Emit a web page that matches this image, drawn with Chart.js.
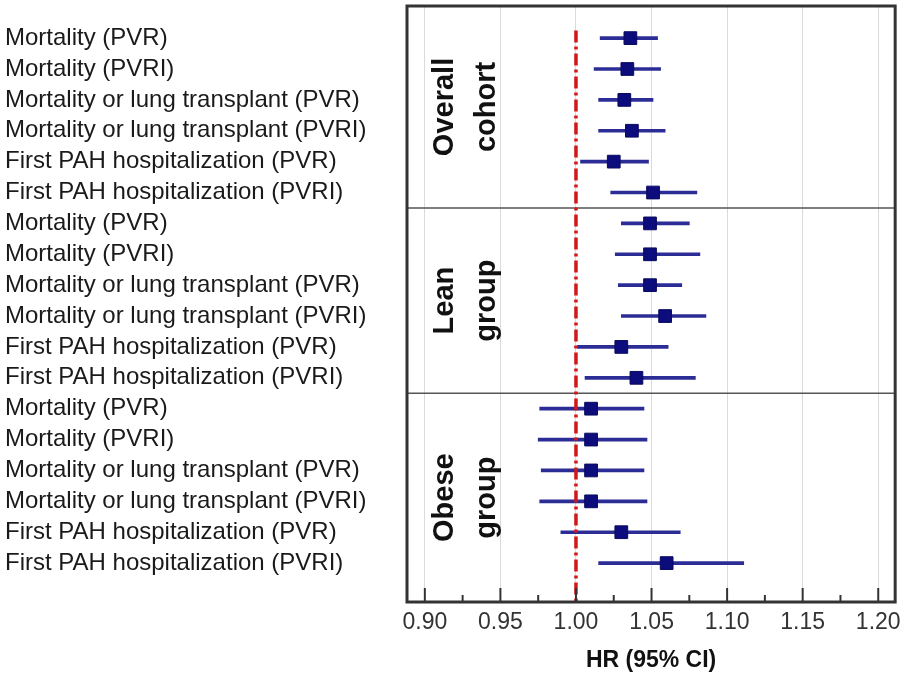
<!DOCTYPE html>
<html lang="en">
<head>
    <meta charset="UTF-8">
    <title>HR forest plot</title>
    <script src="https://cdn.jsdelivr.net/npm/chart.js"></script>
    <style>
        body { margin: 0; background: #fff; }
        canvas { display: block; }
    </style>
</head>
<body>
    <canvas id="chart" width="908" height="678"></canvas>

    <script>
        // outcome labels, one per row, top to bottom
        const outcomes = [
            'Mortality (PVR)',
            'Mortality (PVRI)',
            'Mortality or lung transplant (PVR)',
            'Mortality or lung transplant (PVRI)',
            'First PAH hospitalization (PVR)',
            'First PAH hospitalization (PVRI)'
        ];
        const groups = [['Overall', 'cohort'], ['Lean', 'group'], ['Obese', 'group']];
        const rowLabels = groups.flatMap(() => outcomes);

        // hazard ratios and 95% CI
        const hr   = [1.036, 1.034, 1.032, 1.037, 1.025, 1.051,
                      1.049, 1.049, 1.049, 1.059, 1.030, 1.040,
                      1.010, 1.010, 1.010, 1.010, 1.030, 1.060];
        const ciLo = [1.016, 1.012, 1.015, 1.015, 1.003, 1.023,
                      1.030, 1.026, 1.028, 1.030, 1.001, 1.006,
                      0.976, 0.975, 0.977, 0.976, 0.990, 1.015];
        const ciHi = [1.054, 1.056, 1.051, 1.059, 1.048, 1.080,
                      1.075, 1.082, 1.070, 1.086, 1.061, 1.079,
                      1.045, 1.047, 1.045, 1.047, 1.069, 1.111];

        const xTicks = [0.90, 0.95, 1.00, 1.05, 1.10, 1.15, 1.20];
        const refHR = 1.00;

        const FONT = '"Liberation Sans", Arial, sans-serif';

        // frame, group separators, group labels, minor ticks and the HR=1 line
        const forestDecor = {
            id: 'forestDecor',
            beforeDatasetsDraw(chart) {
                const {ctx, chartArea: a, scales: {x, y}} = chart;
                ctx.save();
                // separators between groups
                let bounds = [a.top];
                for (let g = 1; g < groups.length; g++) {
                    const py = y.getPixelForValue(g * outcomes.length - 0.5);
                    bounds.push(py);
                    ctx.strokeStyle = '#555';
                    ctx.lineWidth = 1.5;
                    ctx.beginPath();
                    ctx.moveTo(a.left, py);
                    ctx.lineTo(a.right, py);
                    ctx.stroke();
                }
                bounds.push(a.bottom);
                // rotated group names
                ctx.fillStyle = '#111';
                ctx.font = 'bold 29px ' + FONT;
                ctx.textAlign = 'center';
                ctx.textBaseline = 'alphabetic';
                groups.forEach((lines, g) => {
                    const cy = (bounds[g] + bounds[g + 1]) / 2;
                    ctx.save();
                    ctx.translate(a.left + 46, cy);
                    ctx.rotate(-Math.PI / 2);
                    lines.forEach((t, k) => ctx.fillText(t, 0, k * 42));
                    ctx.restore();
                });
                ctx.restore();
            },
            afterDatasetsDraw(chart) {
                const {ctx, chartArea: a, scales: {x, y}} = chart;
                ctx.save();
                // red dash-dot reference line
                const rx = x.getPixelForValue(refHR);
                ctx.strokeStyle = '#d01818';
                ctx.lineWidth = 3.5;
                ctx.setLineDash([12, 4, 3, 4]);
                ctx.beginPath();
                ctx.moveTo(rx, y.getPixelForValue(-0.25));
                ctx.lineTo(rx, a.bottom);
                ctx.stroke();
                ctx.setLineDash([]);
                // inward tick marks, major and minor
                ctx.strokeStyle = '#333';
                ctx.lineWidth = 2;
                xTicks.forEach((v, i) => {
                    const px = x.getPixelForValue(v);
                    ctx.beginPath();
                    ctx.moveTo(px, a.bottom);
                    ctx.lineTo(px, a.bottom - 14);
                    ctx.stroke();
                    if (i < xTicks.length - 1) {
                        const mx = x.getPixelForValue((v + xTicks[i + 1]) / 2);
                        ctx.beginPath();
                        ctx.moveTo(mx, a.bottom);
                        ctx.lineTo(mx, a.bottom - 7);
                        ctx.stroke();
                    }
                });
                // plot frame
                ctx.strokeStyle = '#333';
                ctx.lineWidth = 3;
                ctx.strokeRect(a.left, a.top, a.right - a.left, a.bottom - a.top);
                ctx.restore();
            }
        };

        const ctx = document.getElementById('chart').getContext('2d');
        const chart = new Chart(ctx, {
            type: 'bar',
            data: {
                datasets: [
                    {
                        label: '95% CI',
                        data: rowLabels.map((_, i) => ({ y: i, x: [ciLo[i], ciHi[i]] })),
                        backgroundColor: '#2c2c96',
                        barThickness: 3,
                        borderSkipped: false,
                        order: 2
                    },
                    {
                        type: 'scatter',
                        label: 'HR',
                        data: hr.map((v, i) => ({ x: v, y: i })),
                        pointStyle: 'rect',
                        pointRadius: 9,
                        backgroundColor: '#0c0c7c',
                        borderColor: '#0a0a5e',
                        borderWidth: 1,
                        order: 1
                    }
                ]
            },
            options: {
                responsive: false,
                animation: false,
                indexAxis: 'y',
                layout: { autoPadding: false, padding: { left: 5, right: 11, top: 6, bottom: 0 } },
                plugins: {
                    legend: { display: false },
                    tooltip: { enabled: false }
                },
                scales: {
                    x: {
                        type: 'linear',
                        min: 0.8882,
                        max: 1.2112,
                        afterBuildTicks: (s) => { s.ticks = xTicks.map(v => ({ value: v })); },
                        afterFit: (s) => { s.height = 76; },
                        grid: { color: '#dadada', lineWidth: 1, drawTicks: false },
                        border: { display: false },
                        ticks: {
                            padding: 7,
                            color: '#333',
                            font: { family: FONT, size: 23 },
                            callback: (v) => Number(v).toFixed(2)
                        },
                        title: {
                            display: true,
                            text: 'HR (95% CI)',
                            color: '#111',
                            font: { family: FONT, size: 23, weight: 'bold' },
                            padding: { top: 0, bottom: 4 }
                        }
                    },
                    y: {
                        type: 'linear',
                        reverse: true,
                        offset: false,
                        min: -1.04,
                        max: 18.26,
                        afterBuildTicks: (s) => { s.ticks = rowLabels.map((_, i) => ({ value: i })); },
                        afterFit: (s) => { s.width = 402; s.paddingTop = 0; s.paddingBottom = 0; },
                        grid: { display: false },
                        border: { display: false },
                        ticks: {
                            crossAlign: 'far',
                            color: '#1a1a1a',
                            font: { family: FONT, size: 24 },
                            callback: (v) => rowLabels[v]
                        }
                    }
                }
            },
            plugins: [forestDecor]
        });
    </script>
</body>
</html>
